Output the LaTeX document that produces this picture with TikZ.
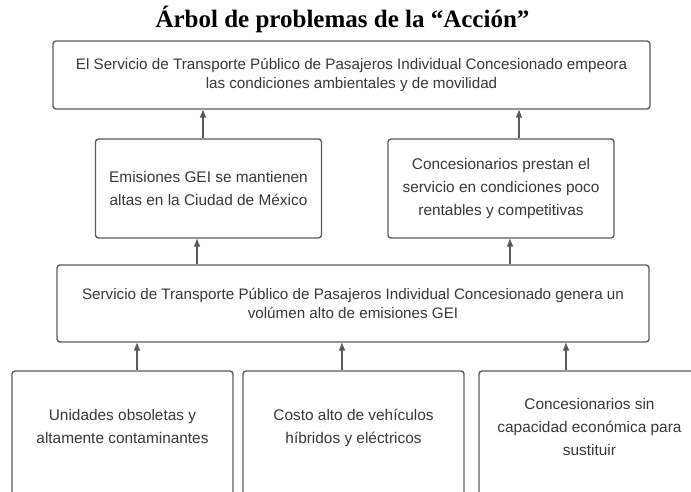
\documentclass[tikz,border=0pt]{standalone}
\usepackage{fontspec}
\setmainfont{Liberation Sans}
\newfontfamily\titulofont{Liberation Serif}
\usetikzlibrary{arrows.meta}
\definecolor{borde}{HTML}{5C5C5C}
\definecolor{texto}{HTML}{383838}

\begin{document}
\begin{tikzpicture}[x=1pt, y=-1pt,
	caja/.style={draw=borde, line width=1.4pt, rounded corners=3pt, align=center, text=texto, inner sep=0pt, font=\fontsize{15.2}{19.5}\selectfont},
	cajachica/.style={caja, minimum width=226, font=\fontsize{15.4}{23}\selectfont},
	causa/.style={cajachica, minimum width=221, minimum height=200, text depth=89pt},
	flecha/.style={draw=borde, line width=1.4pt, -{Triangle[length=8pt, width=6pt]}}]
					\useasboundingbox (0,0) rectangle (691,491);
					\node[font=\titulofont\bfseries\fontsize{25}{29}\selectfont] (T)at(342.5, 19) {Árbol de problemas de la “Acción”};
					% problema principal
					\node[caja, minimum width=597, minimum height=68] (P)at(351.5, 75) {El Servicio de Transporte Público de Pasajeros Individual Concesionado empeora\\las condiciones ambientales y de movilidad};
					\node[cajachica, minimum height=99] (EA)at(208.5, 188.5) {Emisiones GEI se mantienen\\altas en la Ciudad de México};
					\node[cajachica, minimum height=99] (EB)at(501, 188.5) {Concesionarios prestan el\\servicio en condiciones poco\\rentables y competitivas};
					\node[caja, minimum width=592, minimum height=77] (C)at(353, 303.5) {Servicio de Transporte Público de Pasajeros Individual Concesionado genera un\\volúmen alto de emisiones GEI};
					% causas
					\node[causa] (CA)at(122.5, 471) {Unidades obsoletas y\\altamente contaminantes};
					\node[causa] (CB)at(353.5, 471) {Costo alto de vehículos\\híbridos y eléctricos};
					\node[causa] (CC)at(589.5, 471) {Concesionarios sin\\capacidad económica para\\sustituir};
					\draw[flecha] ([xshift=-5.5]EA.north) -- ([xshift=-5.5]EA.north |- P.south);
					\draw[flecha] ([xshift=18]EB.north) -- ([xshift=18]EB.north |- P.south);
					\draw[flecha] ([xshift=-11.5]EA.south |- C.north) -- ([xshift=-11.5]EA.south);
					\draw[flecha] ([xshift=9]EB.south |- C.north) -- ([xshift=9]EB.south);
					\draw[flecha] ([xshift=14.5]CA.north) -- ([xshift=14.5]CA.north |- C.south);
					\draw[flecha] ([xshift=-11.5]CB.north) -- ([xshift=-11.5]CB.north |- C.south);
					\draw[flecha] ([xshift=-23.5]CC.north) -- ([xshift=-23.5]CC.north |- C.south);
				\end{tikzpicture}
\end{document}
